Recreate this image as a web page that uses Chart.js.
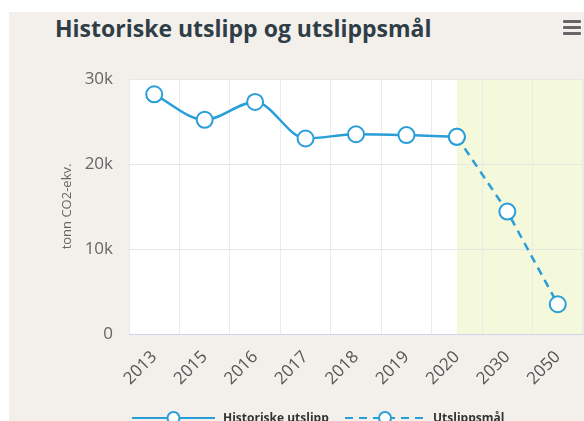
<!DOCTYPE html>
<html>
<head>
<meta charset="utf-8">
<script src="https://cdn.jsdelivr.net/npm/chart.js@4"></script>
<style>
  body { margin: 0; background: #fff; }
  #wrap { position: absolute; left: 9px; top: 12px; width: 575px; height: 409px; background: #f3f0eb; overflow: hidden; }
  #title { position: absolute; left: 46px; top: 0px; font: bold 23px "Open Sans", sans-serif; color: #2f3d46; white-space: nowrap; }
  .bar { position: absolute; left: 554px; width: 18px; height: 3px; background: #666; border-radius: 1px; }
  #c { position: absolute; left: 0; top: 0; }
</style>
</head>
<body>
<div id="wrap">
  <div id="title">Historiske utslipp og utslippsmål</div>
  <div class="bar" style="top:8px"></div>
  <div class="bar" style="top:14px"></div>
  <div class="bar" style="top:20px"></div>
  <canvas id="c" width="575" height="409"></canvas>
</div>
<script>
// data
const years = ["2013", "2015", "2016", "2017", "2018", "2019", "2020", "2030", "2050"];
const historiske = [28200, 25200, 27300, 23000, 23500, 23400, 23200, null, null];
const maal = [null, null, null, null, null, null, 23200, 14400, 3500];
const yTicks = [0, 10000, 20000, 30000];

const blue = "#2a9ed8";

// hvit bakgrunn + gront felt for maalene
const bakgrunn = {
  id: "bakgrunn",
  beforeDraw(chart) {
    const a = chart.chartArea, ctx = chart.ctx;
    ctx.save();
    ctx.fillStyle = "#fff";
    ctx.fillRect(a.left, a.top, a.right - a.left, a.bottom - a.top);
    const x0 = chart.scales.x.getPixelForValue(6);
    ctx.fillStyle = "#f4f9dc";
    ctx.fillRect(x0, a.top, a.right - x0, a.bottom - a.top);
    ctx.strokeStyle = "#e8e8e8";
    ctx.lineWidth = 1;
    ctx.strokeRect(a.left + 0.5, a.top + 0.5, a.right - a.left - 1, a.bottom - a.top);
    ctx.restore();
  }
};

// legend med linje og sirkel som i originalen
const legende = {
  id: "legende",
  afterDraw(chart) {
    const ctx = chart.ctx;
    const y = 406;
    const items = [
      { x: 123, w: 83, dash: [], text: chart.data.datasets[0].label },
      { x: 336, w: 80, dash: [8, 6], text: chart.data.datasets[1].label }
    ];
    ctx.save();
    items.forEach(it => {
      ctx.strokeStyle = blue;
      ctx.lineWidth = 2;
      ctx.setLineDash(it.dash);
      ctx.beginPath();
      ctx.moveTo(it.x, y);
      ctx.lineTo(it.x + it.w, y);
      ctx.stroke();
      ctx.setLineDash([]);
      ctx.fillStyle = "#fff";
      ctx.beginPath();
      ctx.arc(it.x + it.w / 2, y, 6, 0, Math.PI * 2);
      ctx.fill();
      ctx.stroke();
      ctx.fillStyle = "#333";
      ctx.font = "bold 12px 'Open Sans', sans-serif";
      ctx.textBaseline = "middle";
      ctx.fillText(it.text, it.x + it.w + 8, y + 1);
    });
    ctx.restore();
  }
};

new Chart(document.getElementById("c"), {
  type: "line",
  data: {
    labels: years,
    datasets: [
      {
        label: "Historiske utslipp",
        data: historiske,
        borderColor: blue,
        borderWidth: 2.5,
        cubicInterpolationMode: "monotone",
        pointRadius: 8,
        pointBorderWidth: 2,
        pointBackgroundColor: "#fff",
        pointBorderColor: blue
      },
      {
        label: "Utslippsmål",
        data: maal,
        borderColor: blue,
        borderWidth: 2.5,
        borderDash: [8, 6],
        tension: 0,
        pointRadius: 8,
        pointBorderWidth: 2,
        pointBackgroundColor: "#fff",
        pointBorderColor: blue
      }
    ]
  },
  options: {
    responsive: false,
    animation: false,
    layout: { autoPadding: false, padding: { top: 67, left: 0, right: 1, bottom: 0 } },
    plugins: {
      legend: { display: false },
      tooltip: { enabled: false }
    },
    scales: {
      x: {
        offset: true,
        grid: { color: "#ebebeb", drawTicks: false, offset: true },
        border: { color: "#ccd6eb" },
        ticks: {
          color: "#555",
          font: { family: "Open Sans", size: 17 },
          maxRotation: 45,
          minRotation: 45,
          padding: 13
        },
        afterFit(s) { s.height = 87; s.paddingLeft = 0; s.paddingRight = 0; }
      },
      y: {
        min: 0,
        max: 30000,
        afterBuildTicks(s) { s.ticks = yTicks.map(v => ({ value: v })); },
        grid: { color: "#e6e6e6", drawTicks: false },
        border: { display: false },
        ticks: {
          color: "#666",
          font: { family: "Open Sans", size: 17 },
          padding: 16,
          callback: v => v === 0 ? "0" : v / 1000 + "k"
        },
        title: {
          display: true,
          text: "tonn CO2-ekv.",
          color: "#666",
          font: { family: "Open Sans", size: 13 },
          padding: { top: 50, bottom: 0 }
        },
        afterFit(s) { s.width = 120; s.paddingTop = 0; s.paddingBottom = 0; }
      }
    }
  },
  plugins: [bakgrunn, legende]
});
</script>
</body>
</html>
